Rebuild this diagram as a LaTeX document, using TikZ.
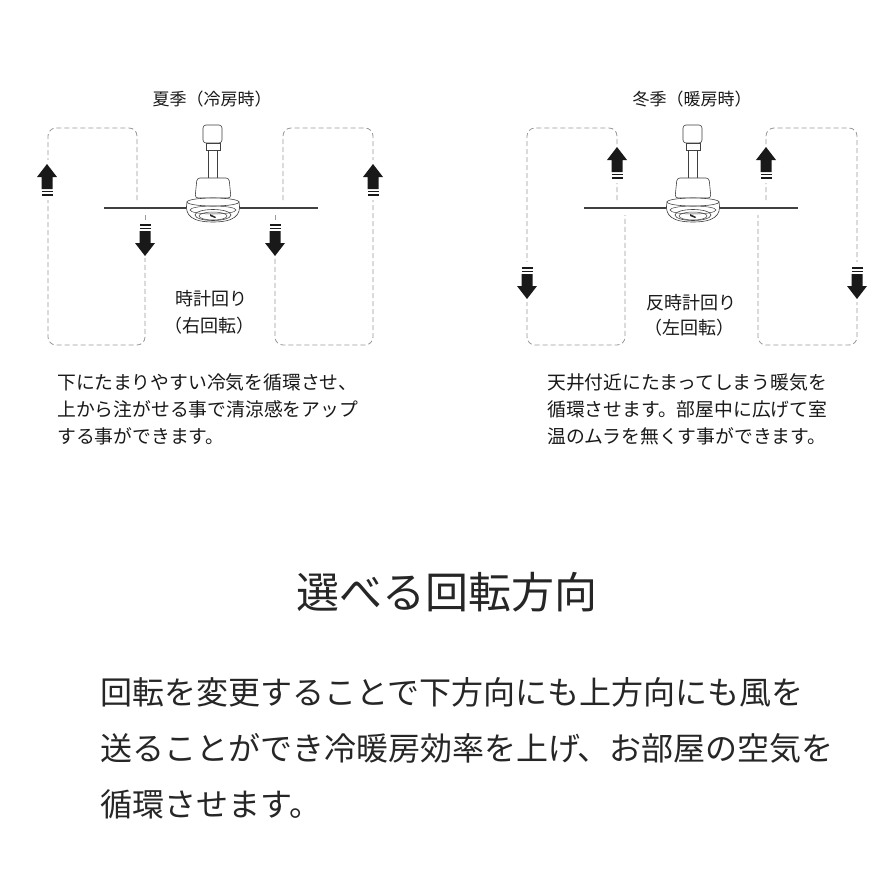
\documentclass[tikz,border=0pt]{standalone}
\usepackage{fontspec}
\setmainfont{Noto Sans CJK JP}
\begin{document}
\begin{tikzpicture}[x=1pt,y=-1pt,
  loopline/.style={draw=gray!80,line width=0.8pt,dash pattern=on 5pt off 3pt,rounded corners=8pt},
  small/.style={font=\fontsize{17}{20}\selectfont,text=black!90},
  label/.style={font=\fontsize{18}{21}\selectfont,text=black!90},
  para/.style={font=\fontsize{18.8}{22}\selectfont,text=black!90,anchor=base west,inner sep=0},
  big/.style={font=\fontsize{32}{36}\selectfont,text=black!85,anchor=base west,inner sep=0},
  head/.style={font=\fontsize{43}{48}\selectfont,text=black!85,inner sep=0},
  uparr/.pic={\fill[black!90] (0,0)--(10,13)--(5.5,13)--(5.5,25)--(-5.5,25)--(-5.5,13)--(-10,13)--cycle;
    \fill[black!90] (-5.5,27) rectangle (5.5,28.3); \fill[black!90] (-5.5,30.3) rectangle (5.5,31.6);},
  fan/.pic={
    \draw[line width=1.1pt,black!75] (-109,0)--(105,0);
    \filldraw[fill=white,draw=black!75,line width=0.6pt,rounded corners=3pt] (-10,-83) rectangle (9,-65);
    \filldraw[fill=white,draw=black!75,line width=0.6pt] (-7,-65) rectangle (7,-58);
    \filldraw[fill=white,draw=black!75,line width=0.6pt] (-4.5,-58) rectangle (4.5,-30);
    \filldraw[fill=white,draw=black!75,line width=0.6pt,rounded corners=3pt] (-16,-30) -- (16,-30) -- (18,-10) -- (-18,-10) -- cycle;
    \filldraw[fill=white,draw=black!75,line width=0.6pt] (-26,-6) .. controls (-29,8) and (-20,14) .. (0,14) .. controls (20,14) and (29,8) .. (26,-6) -- cycle;
    \filldraw[fill=white,draw=black!75,line width=0.6pt] (0,-6) ellipse [x radius=26,y radius=4];
    \draw[black!75,line width=0.5pt] (0,2) ellipse [x radius=23,y radius=4];
    \draw[black!75,line width=0.6pt] (0,7) ellipse [x radius=18,y radius=5.5];
    \draw[black!75,line width=0.5pt] (0,8) ellipse [x radius=14,y radius=4];
    \fill[black!85] (-3,6) -- (3,9) -- (2,10) -- (-3,8) -- cycle;
  }]
\fill[white] (0,0) rectangle (894,894);
\useasboundingbox (0,0) rectangle (894,894);
% summer loops
\draw[loopline] (137,200) -- (137,128) -- (48,128) -- (48,345) -- (145,345) -- (145,258);
\draw[loopline] (145,215) -- (145,222);
\draw[loopline] (283,200) -- (283,128) -- (373,128) -- (373,345) -- (275,345) -- (275,258);
\draw[loopline] (275,215) -- (275,222);
\fill[white] (36,160) rectangle (60,200);
\fill[white] (361,160) rectangle (385,200);
\pic at (47,164) {uparr};
\pic at (373,164) {uparr};
\pic[rotate=180] at (145,256) {uparr};
\pic[rotate=180] at (275,256) {uparr};
\pic at (213,208) {fan};
\node[small] (t1) at (212,99) {夏季（冷房時）};
\node[label] (l1) at (211,299) {時計回り};
\node[label] (l2) at (209,326) {（右回転）};
\node[para] (p1) at (57,389) {下にたまりやすい冷気を循環させ、};
\node[para] (p2) at (57,416) {上から注がせる事で清涼感をアップ};
\node[para] (p3) at (57,443) {する事ができます。};
% winter loops
\draw[loopline] (617,200) -- (617,128) -- (527,128) -- (527,345) -- (625,345) -- (625,215);
\draw[loopline] (766,200) -- (766,128) -- (857,128) -- (857,345) -- (758,345) -- (758,215);
\fill[white] (515,262) rectangle (539,302);
\fill[white] (845,262) rectangle (869,302);
\fill[white] (605,145) rectangle (629,183);
\fill[white] (754,145) rectangle (778,183);
\pic at (617,147) {uparr};
\pic at (766,147) {uparr};
\pic[rotate=180] at (527,299) {uparr};
\pic[rotate=180] at (857,299) {uparr};
\pic at (693,208) {fan};
\node[small] (t2) at (692,99) {冬季（暖房時）};
\node[label] (l3) at (691,303) {反時計回り};
\node[label] (l4) at (689,328) {（左回転）};
\node[para] (p4) at (547,389) {天井付近にたまってしまう暖気を};
\node[para] (p5) at (547,416) {循環させます。部屋中に広げて室};
\node[para] (p6) at (547,443) {温のムラを無くす事ができます。};
% bottom
\node[head] (h) at (447,592) {選べる回転方向};
\node[big] (b1) at (100,704) {回転を変更することで下方向にも上方向にも風を};
\node[big] (b2) at (100,760) {送ることができ冷暖房効率を上げ、お部屋の空気を};
\node[big] (b3) at (100,816) {循環させます。};
\end{tikzpicture}
\end{document}
